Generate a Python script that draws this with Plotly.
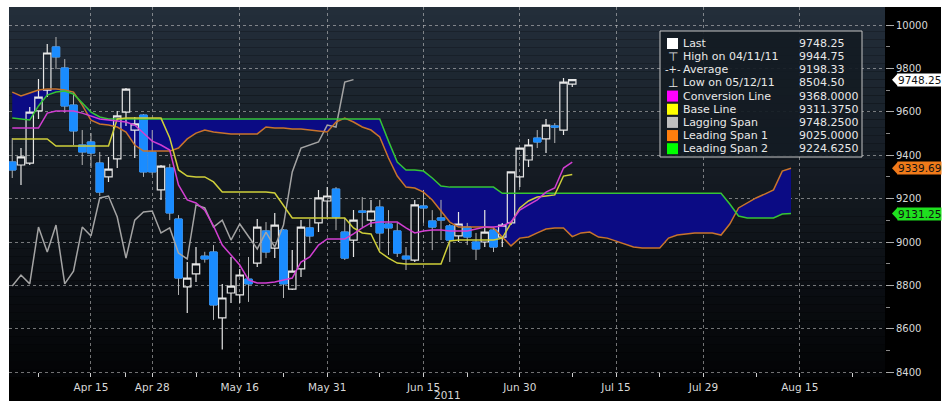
import pandas as pd
import plotly.graph_objects as go

# trading calendar (London holidays dropped), future part runs on weekdays
holidays = ["2011-04-22", "2011-04-25", "2011-04-29", "2011-05-02", "2011-05-30"]
trading_days = [d.strftime("%Y-%m-%d") for d in pd.bdate_range("2011-04-04", "2011-08-26")
                if d.strftime("%Y-%m-%d") not in holidays]

open_ = [9369, 9355, 9364, 9604, 9700, 9899, 9802, 9631, 9447, 9461,
         9364, 9300, 9383, 9599, 9516, 9585, 9415, 9240, 9341, 9106,
         8793, 8853, 8935, 8954, 8650, 8765, 8756, 8829, 8903, 9051,
         8972, 9055, 8783, 8876, 9065, 9088, 9189, 9244, 9046, 9009,
         9143, 9101, 9161, 9083, 9051, 8935, 8917, 9166, 9097, 9111,
         9074, 9028, 9069, 9000, 9000, 9055, 9023, 9088, 9300, 9378,
         9479, 9475, 9535, 9516, 9728]
high = [9479, 9433, 9622, 9751, 9912, 9944.75, 9843, 9691, 9516, 9502,
        9415, 9392, 9604, 9710, 9576, 9590, 9516, 9355, 9360, 9124,
        8908, 8977, 8955, 8986, 8807, 8931, 8876, 8931, 9106, 9092,
        9134, 9060, 8963, 9101, 9106, 9240, 9253, 9253, 9111, 9147,
        9207, 9194, 9194, 9147, 9088, 8977, 9194, 9240, 9147, 9194,
        9083, 9138, 9088, 9042, 9147, 9069, 9088, 9323, 9433, 9475,
        9516, 9567, 9548, 9756, 9750]
low = [9295, 9263, 9355, 9567, 9668, 9797, 9595, 9447, 9355, 9341,
       9212, 9277, 9341, 9535, 9387, 9300, 9309, 9194, 9101, 8756,
       8673, 8816, 8905, 8641, 8504.5, 8719, 8719, 8724, 8885, 8926,
       8926, 8742, 8779, 8839, 8995, 9046, 9115, 9055, 8917, 8931,
       9069, 9069, 8963, 8940, 8931, 8871, 8908, 9088, 8963, 9009,
       8908, 9000, 8986, 8917, 8977, 8954, 8977, 9078, 9253, 9346,
       9433, 9410, 9456, 9493, 9714]
close = [9332, 9392, 9599, 9668, 9871, 9853, 9627, 9512, 9415, 9410,
         9230, 9336, 9581, 9705, 9544, 9323, 9323, 9350, 9134, 8834,
         8834, 8899, 8922, 8710, 8742, 8797, 8848, 8807, 9069, 8954,
         9078, 8807, 8866, 9069, 9028, 9203, 9212, 9115, 8926, 9101,
         9138, 9143, 9042, 9065, 8949, 8922, 9171, 9157, 9069, 9101,
         9009, 9083, 9023, 8968, 9046, 8977, 9078, 9323, 9433, 9447,
         9461, 9539, 9530, 9737, 9748.25]

conversion_line = [9525, 9525, 9525, 9525, 9594, 9604, 9604, 9604, 9594, 9581,
                   9567, 9562, 9558, 9553, 9539, 9502, 9465, 9447, 9424, 9263,
                   9194, 9180, 9147, 9074, 8986, 8940, 8894, 8825, 8811, 8811,
                   8816, 8825, 8834, 8908, 8931, 8986, 9014, 9014, 9014, 9037,
                   9065, 9088, 9092, 9092, 9092, 9065, 9042, 9051, 9055, 9055,
                   9051, 9051, 9051, 9060, 9069, 9069, 9074, 9092, 9147, 9171,
                   9194, 9230, 9249, 9341, 9368]
base_line = [9475, 9475, 9475, 9475, 9475, 9442, 9442, 9442, 9442, 9442,
             9442, 9442, 9567, 9571, 9571, 9571, 9571, 9571, 9479, 9332,
             9304, 9300, 9300, 9277, 9230, 9230, 9230, 9230, 9230, 9230,
             9226, 9171, 9111, 9111, 9111, 9111, 9111, 9111, 9111, 9065,
             9042, 9037, 8954, 8926, 8903, 8899, 8899, 8899, 8899, 8899,
             9005, 9009, 9009, 9009, 9009, 9009, 9018, 9088, 9157, 9189,
             9207, 9212, 9217, 9304, 9311.375]
lagging_span = [8797, 8848, 8807, 9069, 8954, 9078, 8807, 8866, 9069, 9028,
                9203, 9212, 9115, 8926, 9101, 9138, 9143, 9042, 9065, 8949,
                8922, 9171, 9157, 9069, 9101, 9009, 9083, 9023, 8968, 9046,
                8977, 9078, 9323, 9433, 9447, 9461, 9539, 9530, 9737, 9748.25]
leading_span_1 = [9691, 9673, 9687, 9700, 9705, 9705, 9700, 9691, 9631, 9562,
                  9544, 9539, 9530, 9507, 9447, 9419, 9419, 9419, 9419, 9433,
                  9475, 9502, 9516, 9507, 9502, 9498, 9498, 9498, 9498, 9530,
                  9525, 9525, 9521, 9521, 9516, 9512, 9507, 9553, 9571, 9553,
                  9530, 9516, 9484, 9387, 9304, 9253, 9249, 9230, 9194, 9143,
                  9092, 9069, 9069, 9069, 9069, 9065, 9023, 8982, 9018, 9023,
                  9042, 9060, 9065, 9065, 9025, 9042, 9046, 9023, 9018, 9005,
                  8991, 8977, 8972, 8972, 8972, 9018, 9032, 9037, 9042, 9042,
                  9042, 9032, 9083, 9157, 9180, 9203, 9221, 9240, 9327, 9339.69]
leading_span_2 = [9571, 9567, 9562, 9627, 9677, 9691, 9696, 9682, 9641, 9599,
                  9576, 9567, 9567, 9567, 9567, 9567, 9567, 9567, 9567, 9567,
                  9567, 9567, 9567, 9567, 9567, 9567, 9567, 9567, 9567, 9567,
                  9567, 9567, 9567, 9567, 9567, 9567, 9567, 9567, 9567, 9567,
                  9567, 9567, 9567, 9465, 9369, 9332, 9332, 9327, 9295, 9258,
                  9253, 9253, 9253, 9253, 9253, 9253, 9224.6, 9224.6, 9224.6, 9224.6,
                  9224.6, 9224.6, 9224.6, 9224.6, 9224.6, 9224.6, 9224.6, 9224.6, 9224.6, 9224.6,
                  9224.6, 9224.6, 9224.6, 9224.6, 9224.6, 9224.6, 9224.6, 9224.6, 9224.6, 9224.6,
                  9224.6, 9224.6, 9175, 9120, 9111, 9111, 9111, 9111, 9129, 9131.25]

tick_dates = ["2011-04-15", "2011-04-28", "2011-05-16", "2011-05-31", "2011-06-15",
              "2011-06-30", "2011-07-15", "2011-07-29", "2011-08-15"]
tick_labels = ["Apr 15", "Apr 28", "May 16", "May 31", "Jun 15",
               "Jun 30", "Jul 15", "Jul 29", "Aug 15"]
minor_tick_dates = ["2011-04-07", "2011-04-21", "2011-05-09", "2011-05-23", "2011-06-08",
                    "2011-06-22", "2011-07-08", "2011-07-22", "2011-08-08", "2011-08-23"]

legend_rows = [
    ("Last", "9748.25", "#ffffff"),
    ("High on 04/11/11", "9944.75", "⊤"),
    ("Average", "9198.33", "-+-"),
    ("Low on 05/12/11", "8504.50", "⊥"),
    ("Conversion Line", "9368.0000", "#ff00ff"),
    ("Base Line", "9311.3750", "#ffff00"),
    ("Lagging Span", "9748.2500", "#c0c0c0"),
    ("Leading Span 1", "9025.0000", "#ff7f0e"),
    ("Leading Span 2", "9224.6250", "#00ff00"),
]
right_labels = [(9748.25, "9748.25", "#ffffff"),
                (9339.69, "9339.69", "#f07a1a"),
                (9131.25, "9131.25", "#1fe01f")]

# pixel frame of the plot area
W, H = 947, 401
L, R, T, B = 9, 885, 7, 377
Y_RANGE = [8378, 10083]
X_RANGE = [-0.37, 99.74]


def px(x):
    return (x - L) / (R - L)


def py(y):
    return (B - y) / (B - T)


def vy(v):
    return (v - Y_RANGE[0]) / (Y_RANGE[1] - Y_RANGE[0])


pos = {d: i for i, d in enumerate(trading_days)}
xc = list(range(len(close)))

FONT = "DejaVu Sans"
BLUE = "#1a8cff"

fig = go.Figure()

# cloud between the two leading spans
fig.add_trace(go.Scatter(x=list(range(len(leading_span_2))), y=leading_span_2, mode="lines",
                         line=dict(width=0), hoverinfo="skip", zorder=0))
fig.add_trace(go.Scatter(x=list(range(len(leading_span_1))), y=leading_span_1, mode="lines",
                         line=dict(width=0), fill="tonexty", fillcolor="#0b0b84",
                         hoverinfo="skip", zorder=0))

fig.add_trace(go.Candlestick(
    x=xc, open=open_, high=high, low=low, close=close,
    increasing=dict(line=dict(color="#e6e6e6", width=1.2), fillcolor="rgba(0,0,0,0)"),
    decreasing=dict(line=dict(color="#b4b4b4", width=1), fillcolor=BLUE),
    whiskerwidth=0, zorder=1,
))
# blue bodies of the down days, drawn over their grey outline
down = [i for i in xc if close[i] < open_[i]]
fig.add_trace(go.Candlestick(
    x=down, open=[open_[i] for i in down], close=[close[i] for i in down],
    high=[open_[i] for i in down], low=[close[i] for i in down],
    increasing=dict(line=dict(color=BLUE, width=1), fillcolor=BLUE),
    decreasing=dict(line=dict(color=BLUE, width=1), fillcolor=BLUE),
    whiskerwidth=0, zorder=1,
))

lines = [
    (lagging_span, "#a4a4a4"),
    (leading_span_1, "#c8742c"),
    (leading_span_2, "#36c436"),
    (base_line, "#cfcf3a"),
    (conversion_line, "#d23ed2"),
]
for vals, col in lines:
    fig.add_trace(go.Scatter(x=list(range(len(vals))), y=vals, mode="lines",
                             line=dict(color=col, width=1.5), hoverinfo="skip", zorder=2))

shapes = []
# black panel on white paper
shapes.append(dict(type="rect", xref="paper", yref="paper", x0=px(9), x1=px(941),
                   y0=py(401), y1=py(7), fillcolor="black", line_width=0, layer="below"))
# vertical gradient of the plot background
n = 46
top, bot = (35, 46, 58), (3, 4, 6)
for i in range(n):
    f = i / (n - 1)
    c = tuple(round(top[k] + (bot[k] - top[k]) * f) for k in range(3))
    shapes.append(dict(type="rect", xref="paper", yref="paper", x0=0, x1=1,
                       y0=1 - (i + 1) / n, y1=1 - i / n, fillcolor="rgb(%d,%d,%d)" % c,
                       line_width=0, layer="below"))

# legend box
shapes.append(dict(type="rect", xref="paper", yref="paper", x0=px(660), x1=px(862),
                   y0=py(157), y1=py(31), fillcolor="rgba(20,27,35,0.92)",
                   line=dict(color="#c4c4c4", width=1), layer="above"))
annotations = []
for i, (name, val, mark) in enumerate(legend_rows):
    yy = 43.5 + 13.15 * i
    if mark.startswith("#"):
        shapes.append(dict(type="rect", xref="paper", yref="paper", x0=px(667), x1=px(678),
                           y0=py(yy + 5.5), y1=py(yy - 5.5), fillcolor=mark,
                           line_width=0, layer="above"))
    else:
        annotations.append(dict(xref="paper", yref="paper", x=px(672.5), y=py(yy), text=mark,
                                showarrow=False, xanchor="center", yanchor="middle",
                                font=dict(family=FONT, size=10 if len(mark) > 1 else 12,
                                          color="#e8e8e8")))
    annotations.append(dict(xref="paper", yref="paper", x=px(681), y=py(yy), text=name,
                            showarrow=False, xanchor="left", yanchor="middle",
                            font=dict(family=FONT, size=11, color="#e8e8e8")))
    annotations.append(dict(xref="paper", yref="paper", x=px(797), y=py(yy), text=val,
                            showarrow=False, xanchor="left", yanchor="middle",
                            font=dict(family=FONT, size=11, color="#e8e8e8")))

# price callouts on the right axis
for v, txt, col in right_labels:
    yv = vy(v)
    dy = 6.5 / (B - T)
    shapes.append(dict(type="path", xref="paper", yref="paper", fillcolor=col, line_width=0,
                       path="M %f,%f L %f,%f L %f,%f Z" % (px(892), yv, px(898), yv + dy,
                                                           px(898), yv - dy),
                       layer="above"))
    annotations.append(dict(xref="paper", yref="y", x=px(897), y=v, text=txt,
                            showarrow=False, xanchor="left", yanchor="middle",
                            bgcolor=col, borderpad=0,
                            font=dict(family=FONT, size=10.5, color="#111111")))

annotations.append(dict(xref="paper", yref="paper", x=px(447), y=py(395), text="2011",
                        showarrow=False, xanchor="center", yanchor="middle",
                        font=dict(family=FONT, size=10.5, color="#d8d8d8")))

fig.update_layout(
    width=W, height=H,
    margin=dict(l=L, r=W - R, t=T, b=H - B),
    paper_bgcolor="white", plot_bgcolor="black",
    showlegend=False, boxgap=0.06, boxgroupgap=0.1,
    shapes=shapes, annotations=annotations,
    xaxis=dict(
        range=X_RANGE, tickmode="array",
        tickvals=[pos[d] for d in tick_dates], ticktext=tick_labels,
        ticks="inside", ticklen=4, tickcolor="#d0d0d0",
        showgrid=True, gridcolor="rgba(205,205,205,0.55)", griddash="dot", gridwidth=1,
        showline=True, linecolor="#d8d8d8", linewidth=1, zeroline=False,
        tickfont=dict(family=FONT, size=10.5, color="#d8d8d8"),
        minor=dict(tickmode="array", tickvals=[pos[d] for d in minor_tick_dates],
                   ticks="inside", ticklen=4, tickcolor="#d0d0d0", showgrid=False),
        rangeslider=dict(visible=False), fixedrange=True,
    ),
    yaxis=dict(
        range=Y_RANGE, side="right", tick0=8400, dtick=200, tickformat="d",
        ticks="outside", ticklen=8, tickcolor="#aaaaaa",
        showgrid=True, gridcolor="rgba(205,205,205,0.55)", griddash="dot", gridwidth=1,
        showline=True, linecolor="#9a9a9a", linewidth=1, zeroline=False,
        tickfont=dict(family=FONT, size=10, color="#d8d8d8"),
        minor=dict(dtick=100, ticks="outside", ticklen=4, tickcolor="#888888", showgrid=False),
        fixedrange=True,
    ),
)

# the page's default body margin would shift the figure by 8px
fig.write_html("out.html", config={"displayModeBar": False},
               post_script="document.body.style.margin='0';")
